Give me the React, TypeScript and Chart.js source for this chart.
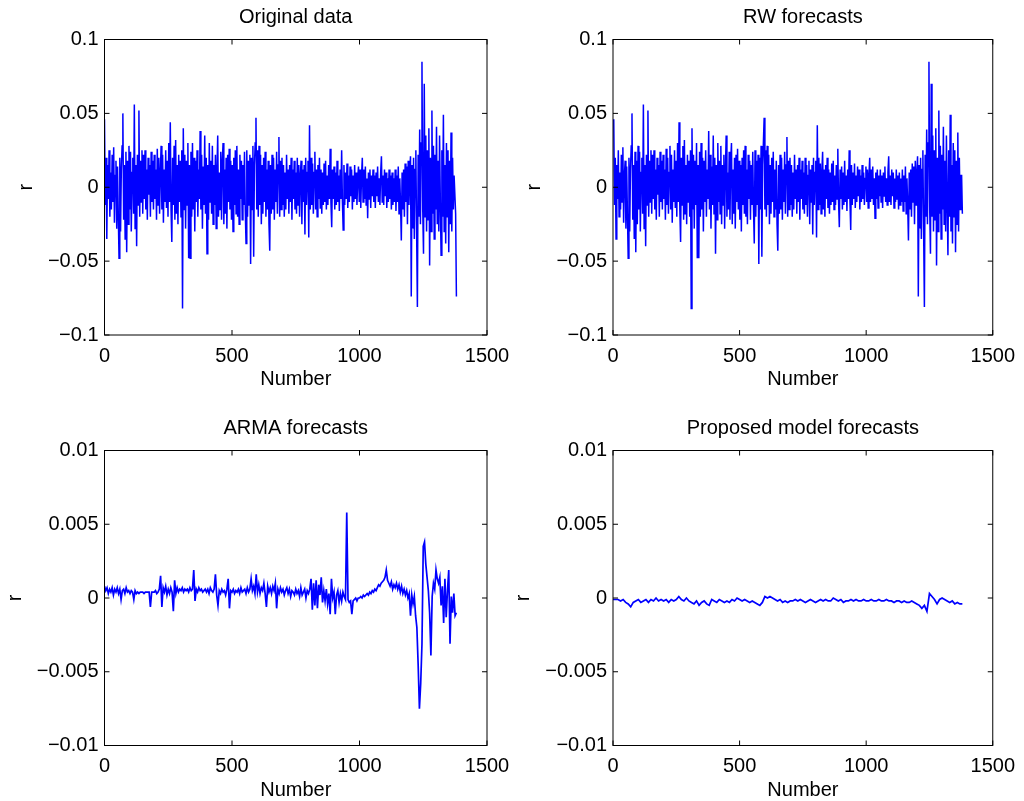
import { useEffect, useRef } from 'react'
import Chart from 'chart.js/auto'
import type { Plugin } from 'chart.js'

// spacing (in observation numbers) between the samples kept for each series
const originalStep = 3
const armaStep = 5
const proposedStep = 10

const originalData = [
  0.046, -0.012, 0.020, -0.035, 0.015, -0.008, 0.025, -0.020, 0.010, -0.015,
  0.022, -0.010, 0.027, -0.024, 0.008, 0.018, -0.028, 0.014, -0.018, -0.048,
  0.020, -0.030, 0.012, 0.028, 0.050, -0.022, 0.015, -0.035, 0.024, -0.044,
  0.018, -0.025, 0.028, -0.015, 0.024, -0.030, 0.010, 0.020, -0.018, 0.056,
  -0.028, 0.015, -0.040, 0.022, -0.012, 0.052, -0.020, 0.018, -0.010, 0.025,
  -0.018, 0.022, -0.008, 0.025, -0.015, 0.012, -0.022, 0.020, -0.005, 0.015,
  -0.020, 0.024, -0.010, 0.018, -0.015, 0.022, -0.008, 0.012, -0.022, 0.026,
  -0.012, 0.020, -0.018, 0.010, 0.028, -0.015, 0.022, -0.024, 0.012, -0.010,
  0.025, -0.014, 0.018, -0.020, 0.030, -0.010, 0.044, -0.015, -0.037, 0.020,
  -0.012, 0.028, -0.022, 0.032, -0.018, 0.015, -0.025, 0.022, -0.010, 0.018,
  -0.020, 0.025, -0.082, 0.040, -0.015, 0.022, -0.028, 0.018, -0.012, 0.030,
  -0.048, 0.015, -0.048, 0.024, -0.020, 0.030, -0.015, 0.020, -0.030, 0.018,
  -0.010, 0.025, -0.020, 0.012, -0.008, 0.038, -0.015, 0.022, -0.028, 0.014,
  -0.012, 0.035, -0.018, 0.020, -0.045, 0.015, -0.022, 0.030, -0.010, 0.018,
  -0.018, 0.028, -0.025, 0.015, -0.012, 0.022, -0.028, 0.012, 0.035, -0.020,
  0.010, -0.015, 0.024, -0.022, 0.018, 0.030, -0.025, 0.012, -0.018, 0.020,
  -0.028, 0.022, -0.010, 0.026, -0.015, 0.018, -0.022, 0.015, -0.030, 0.020,
  -0.012, 0.025, -0.018, 0.028, -0.020, 0.012, -0.025, 0.022, -0.008, 0.018,
  -0.022, 0.015, -0.012, 0.024, -0.015, -0.038, 0.025, -0.020, 0.018, -0.012,
  0.022, -0.052, 0.020, -0.015, 0.028, -0.047, 0.015, 0.030, 0.047, -0.015,
  0.025, -0.020, 0.028, -0.012, 0.022, -0.025, 0.015, -0.018, 0.020, -0.010,
  0.024, -0.020, 0.012, -0.015, 0.018, -0.025, -0.043, 0.015, -0.018, 0.022,
  -0.015, 0.020, -0.022, 0.012, -0.010, 0.024, -0.018, 0.015, 0.034, -0.020,
  0.018, -0.015, 0.020, -0.012, 0.015, -0.020, 0.010, -0.015, 0.022, -0.008,
  0.012, -0.018, 0.015, -0.010, 0.020, -0.022, 0.012, -0.008, 0.018, -0.015,
  0.010, -0.018, 0.020, -0.012, 0.015, -0.020, 0.008, 0.018, -0.025, 0.012,
  -0.010, 0.015, -0.032, 0.020, -0.012, 0.010, 0.018, -0.034, 0.042, -0.015,
  0.020, -0.012, 0.016, -0.018, 0.010, 0.024, -0.015, 0.012, -0.020, 0.015,
  -0.008, 0.020, -0.014, 0.012, -0.018, 0.010, -0.012, 0.016, -0.010, 0.018,
  -0.015, 0.008, -0.012, 0.015, -0.008, 0.026, -0.010, -0.027, 0.012, -0.008,
  0.014, -0.015, 0.010, -0.012, 0.018, -0.010, 0.008, -0.016, 0.012, -0.008,
  0.025, -0.010, -0.029, 0.015, -0.012, 0.010, -0.008, 0.016, -0.014, 0.008,
  -0.010, 0.014, -0.006, 0.012, -0.015, 0.008, -0.010, 0.015, -0.008, 0.010,
  -0.012, 0.006, 0.014, -0.010, 0.012, -0.014, 0.008, 0.020, -0.010, 0.012,
  -0.008, 0.014, -0.012, 0.006, -0.021, 0.010, -0.008, 0.012, -0.014, 0.008,
  -0.006, 0.012, -0.010, 0.008, -0.014, 0.010, -0.006, 0.014, -0.010, 0.006,
  -0.012, 0.010, 0.021, -0.010, 0.008, -0.012, 0.012, -0.006, 0.010, -0.014,
  0.006, -0.010, 0.012, -0.008, 0.008, -0.015, 0.010, -0.012, 0.006, -0.010,
  0.012, -0.016, 0.008, -0.010, 0.014, -0.018, 0.006, -0.012, -0.036, 0.010,
  -0.015, 0.012, -0.020, 0.016, -0.010, 0.014, -0.025, 0.018, -0.012, 0.010,
  0.021, -0.074, 0.015, -0.028, 0.020, -0.035, 0.012, 0.025, -0.030, -0.081,
  0.022, -0.020, 0.039, -0.025, 0.030, 0.085, -0.015, -0.045, 0.070, -0.020,
  0.035, -0.030, 0.025, -0.022, 0.040, -0.053, 0.020, -0.030, 0.052, -0.018,
  0.028, -0.035, 0.022, -0.015, 0.041, -0.025, 0.018, -0.030, 0.035, -0.010,
  -0.046, 0.025, -0.020, 0.049, -0.030, 0.015, -0.038, 0.030, -0.020, 0.025,
  -0.044, 0.018, -0.025, 0.037, -0.030, 0.020, -0.015, 0.008, 0.008, -0.018,
  -0.074,
]

// a random-walk forecast is simply the previous observation
const rwForecasts = originalData.slice(0, -1)

const armaForecasts = [
  0.0008, 0.0005, 0.0007, 0.0003, 0.0006, 0.0004, 0.0007, 0.0002, 0.0006, 0.0004,
  0.0007, 0.0003, 0.0006, -0.0001, 0.0005, 0.0006, 0.0003, 0.0007, 0.0004, 0.0005,
  0.0003, 0.0005, 0.0004, -0.0001, 0.0005, 0.0003, 0.0004, 0.0003, 0.0004, 0.0004,
  0.0004, 0.0003, 0.0004, 0.0004, 0.0004, 0.0004, -0.0006, 0.0004, 0.0004, 0.0004,
  0.0005, 0.0003, 0.0004, 0.0006, 0.0015, -0.0006, 0.0007, 0.0004, 0.0008, 0.0002,
  0.0006, 0.0003, 0.0007, 0.0004, -0.0009, 0.0012, 0.0003, 0.0007, 0.0004, 0.0006,
  0.0005, 0.0007, 0.0004, 0.0006, 0.0005, 0.0006, 0.0004, 0.0007, 0.0005, 0.0006,
  0.0019, -0.0002, 0.0006, 0.0004, 0.0007, 0.0005, 0.0006, 0.0004, 0.0005, 0.0006,
  0.0004, 0.0006, 0.0003, 0.0007, 0.0005, 0.0004, 0.0006, 0.0016, 0.0002, -0.0005,
  0.0005, 0.0003, 0.0006, 0.0004, 0.0005, 0.0002, 0.0006, 0.0013, -0.0007, 0.0005,
  0.0004, 0.0006, 0.0003, 0.0005, 0.0004, 0.0006, 0.0003, 0.0007, 0.0004, 0.0005,
  0.0006, 0.0003, 0.0007, 0.0004, 0.0006, 0.0013, 0.0005, 0.0008, 0.0003, 0.0016,
  0.0004, 0.0009, 0.0003, 0.0007, 0.0005, 0.0010, 0.0003, -0.0006, 0.0008, 0.0004,
  0.0007, 0.0003, 0.0008, 0.0005, 0.0010, -0.0007, 0.0006, 0.0003, 0.0007, 0.0004,
  0.0006, 0.0002, 0.0005, 0.0007, 0.0003, 0.0006, 0.0001, 0.0005, 0.0004, 0.0002,
  0.0006, 0.0003, 0.0005, 0.0001, 0.0007, 0.0002, 0.0004, 0.0006, 0.0000, 0.0005,
  0.0003, 0.0006, 0.0013, -0.0008, 0.0010, -0.0005, 0.0012, -0.0007, 0.0009, 0.0002,
  0.0014, -0.0003, 0.0005, -0.0002, 0.0006, -0.0004, 0.0003, -0.0011, 0.0013, 0.0000,
  0.0004, -0.0011, 0.0002, 0.0005, -0.0003, 0.0003, -0.0002, 0.0004, 0.0001, -0.0001,
  0.0058, -0.0001, -0.0003, -0.0002, -0.0011, -0.0002, -0.0001, 0.0000, -0.0002, 0.0000,
  0.0000, 0.0001, 0.0000, 0.0002, 0.0001, 0.0002, 0.0003, 0.0002, 0.0004, 0.0003,
  0.0005, 0.0004, 0.0006, 0.0005, 0.0007, 0.0009, 0.0008, 0.0010, 0.0011, 0.0012,
  0.0014, 0.0019, 0.0012, 0.0010, 0.0008, 0.0011, 0.0006, 0.0009, 0.0007, 0.0010,
  0.0006, 0.0009, 0.0004, 0.0008, 0.0003, 0.0006, 0.0002, 0.0005, 0.0000, 0.0003,
  -0.0012, 0.0002, -0.0004, 0.0001, -0.0012, -0.0020, -0.0045, -0.0075, -0.0058, -0.0031,
  0.0035, 0.0038, 0.0023, 0.0014, 0.0005, -0.0010, -0.0039, 0.0001, 0.0010, 0.0006,
  0.0019, 0.0013, 0.0010, 0.0014, -0.0005, 0.0008, -0.0017, 0.0013, -0.0013, 0.0005,
  0.0019, -0.0031, 0.0001, -0.0010, 0.0003, -0.0012, -0.0010,
]

const proposedForecasts = [
  -0.0001, -0.0001, -0.0001, -0.0002, -0.0001, -0.0003, -0.0004, -0.0006, -0.0003, -0.0002,
  -0.0001, -0.0003, -0.0002, -0.0001, -0.0003, -0.0001, -0.0002, 0.0000, -0.0002, -0.0001,
  -0.0002, -0.0001, -0.0003, -0.0001, -0.0002, -0.0001, 0.0001, -0.0001, -0.0002, 0.0000,
  -0.0002, -0.0003, -0.0004, -0.0002, -0.0005, -0.0003, -0.0002, -0.0004, -0.0005, -0.0001,
  -0.0002, -0.0003, -0.0001, -0.0002, -0.0003, -0.0002, -0.0003, -0.0001, -0.0002, 0.0000,
  -0.0001, -0.0002, -0.0001, -0.0002, -0.0003, -0.0002, -0.0003, -0.0004, -0.0005, -0.0003,
  0.0001, 0.0000, 0.0001, 0.0000, -0.0001, -0.0002, -0.0001, -0.0003, -0.0002, -0.0003,
  -0.0002, -0.0002, -0.0001, -0.0002, -0.0001, -0.0002, -0.0003, -0.0002, -0.0001, -0.0002,
  -0.0003, -0.0002, -0.0001, -0.0002, -0.0001, -0.0002, -0.0002, 0.0000, -0.0001, -0.0002,
  -0.0001, -0.0003, -0.0002, -0.0002, -0.0001, -0.0002, -0.0001, -0.0002, -0.0002, -0.0001,
  -0.0002, -0.0002, -0.0001, -0.0002, -0.0002, -0.0001, -0.0002, -0.0002, -0.0001, -0.0002,
  -0.0002, -0.0003, -0.0002, -0.0002, -0.0003, -0.0002, -0.0003, -0.0003, -0.0002, -0.0003,
  -0.0004, -0.0005, -0.0007, -0.0005, -0.0009, 0.0003, 0.0001, -0.0001, -0.0004, -0.0001,
  0.0000, -0.0001, -0.0002, -0.0003, -0.0002, -0.0004, -0.0003, -0.0004, -0.0004,
]

const xRange = { min: 0, max: 1500, step: 500 }
const wideRange = { min: -0.1, max: 0.1, step: 0.05 }
const narrowRange = { min: -0.01, max: 0.01, step: 0.005 }

const FONT = '"Liberation Sans", Arial, Helvetica, sans-serif'
const BLUE = '#0000ff'
const W = 1024
const H = 801
const Y_AXIS_W = 100
const X_AXIS_H = 40
const TICK = 5

type Range = { min: number; max: number; step: number }
type Panel = {
  title: string
  values: number[]
  step: number
  offset: number
  range: Range
  area: { left: number; top: number; right: number; bottom: number }
  rGap: number
  lineWidth: number
}

const panels: Panel[] = [
  {
    title: 'Original data', values: originalData, step: originalStep, offset: 0, range: wideRange,
    area: { left: 104.5, top: 39.5, right: 487, bottom: 335 }, rGap: 73, lineWidth: 1.5,
  },
  {
    title: 'RW forecasts', values: rwForecasts, step: originalStep, offset: originalStep, range: wideRange,
    area: { left: 613, top: 39.5, right: 995.5, bottom: 335 }, rGap: 73, lineWidth: 1.5,
  },
  {
    title: 'ARMA forecasts', values: armaForecasts, step: armaStep, offset: 0, range: narrowRange,
    area: { left: 104.5, top: 450.5, right: 487, bottom: 745.5 }, rGap: 84, lineWidth: 1.7,
  },
  {
    title: 'Proposed model forecasts', values: proposedForecasts, step: proposedStep, offset: 0, range: narrowRange,
    area: { left: 613, top: 450.5, right: 995.5, bottom: 745.5 }, rGap: 84, lineWidth: 1.7,
  },
]

const fmt = (v: number | string) => {
  const s = String(Number(Number(v).toFixed(6)))
  return s.startsWith('-') ? '\u2212' + s.slice(1) : s
}

// MATLAB-like box: frame, inward ticks on all sides, title and axis labels
const framePlugin = (p: Panel): Plugin<'line'> => ({
  id: 'matlabFrame',
  afterDraw(chart) {
    const { ctx, chartArea: a, scales } = chart
    ctx.save()
    ctx.strokeStyle = '#000'
    ctx.lineWidth = 1
    ctx.strokeRect(a.left, a.top, a.right - a.left, a.bottom - a.top)
    ctx.beginPath()
    for (const t of scales.x.ticks) {
      const px = scales.x.getPixelForValue(t.value)
      ctx.moveTo(px, a.bottom)
      ctx.lineTo(px, a.bottom - TICK)
      ctx.moveTo(px, a.top)
      ctx.lineTo(px, a.top + TICK)
    }
    for (const t of scales.y.ticks) {
      const py = scales.y.getPixelForValue(t.value)
      ctx.moveTo(a.left, py)
      ctx.lineTo(a.left + TICK, py)
      ctx.moveTo(a.right, py)
      ctx.lineTo(a.right - TICK, py)
    }
    ctx.stroke()

    ctx.fillStyle = '#000'
    ctx.font = `20px ${FONT}`
    ctx.textAlign = 'center'
    ctx.textBaseline = 'alphabetic'
    const cx = (a.left + a.right) / 2
    ctx.fillText(p.title, cx, a.top - 17)
    ctx.fillText('Number', cx, a.bottom + 50)
    ctx.translate(a.left - p.rGap, (a.top + a.bottom) / 2)
    ctx.rotate(-Math.PI / 2)
    ctx.fillText('r', 0, 0)
    ctx.restore()
  },
})

function makeChart(canvas: HTMLCanvasElement, p: Panel) {
  const tickFont = { family: FONT, size: 20 }
  return new Chart(canvas, {
    type: 'line',
    data: {
      datasets: [
        {
          data: p.values.map((v, i) => ({ x: p.offset + i * p.step, y: v })),
          borderColor: BLUE,
          borderWidth: p.lineWidth,
          borderJoinStyle: 'miter',
          pointRadius: 0,
          tension: 0,
          fill: false,
        },
      ],
    },
    options: {
      responsive: false,
      animation: false,
      events: [],
      layout: {
        padding: {
          left: p.area.left - Y_AXIS_W,
          top: p.area.top,
          right: W - p.area.right,
          bottom: H - p.area.bottom - X_AXIS_H,
        },
      },
      plugins: {
        legend: { display: false },
        tooltip: { enabled: false },
        title: { display: false },
      },
      scales: {
        x: {
          type: 'linear',
          min: xRange.min,
          max: xRange.max,
          afterFit: (s: any) => { s.height = X_AXIS_H },
          grid: { display: false, drawTicks: false },
          border: { display: false },
          ticks: {
            stepSize: xRange.step,
            autoSkip: false,
            maxRotation: 0,
            padding: 9,
            color: '#000',
            font: tickFont,
            callback: (v: any) => fmt(v),
          },
        },
        y: {
          type: 'linear',
          min: p.range.min,
          max: p.range.max,
          afterFit: (s: any) => { s.width = Y_AXIS_W },
          grid: { display: false, drawTicks: false },
          border: { display: false },
          ticks: {
            stepSize: p.range.step,
            autoSkip: false,
            padding: 6,
            color: '#000',
            font: tickFont,
            callback: (v: any) => fmt(v),
          },
        },
      },
    },
    plugins: [framePlugin(p)],
  })
}

export default function App() {
  const refs = useRef<(HTMLCanvasElement | null)[]>([])

  useEffect(() => {
    const charts = panels.map((p, i) => makeChart(refs.current[i] as HTMLCanvasElement, p))
    return () => charts.forEach((c) => c.destroy())
  }, [])

  return (
    <div style={{ position: 'fixed', left: 0, top: 0, width: W, height: H, background: '#fff' }}>
      {panels.map((p, i) => (
        <canvas
          key={p.title}
          ref={(el) => { refs.current[i] = el }}
          width={W}
          height={H}
          style={{ position: 'absolute', left: 0, top: 0, width: W, height: H }}
        />
      ))}
    </div>
  )
}
